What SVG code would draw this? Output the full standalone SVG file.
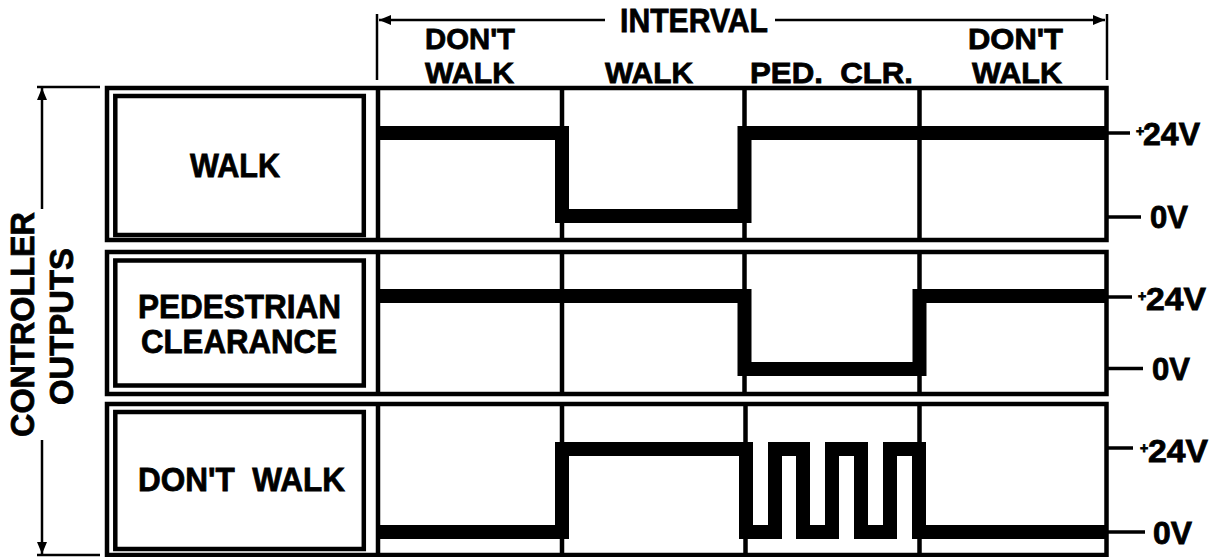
<svg xmlns="http://www.w3.org/2000/svg" width="1217" height="557" viewBox="0 0 1217 557">
<style>
  text { font-family: "Liberation Sans", Arial, sans-serif; font-weight: bold; font-size: 34px; fill: #000; stroke: #000; stroke-width: 0.8; }
  .outer { fill: none; stroke: #000; stroke-width: 4.5; }
  .inner { fill: none; stroke: #000; stroke-width: 4.5; }
  .col { stroke: #000; stroke-width: 4.5; }
  .wave { fill: none; stroke: #000; stroke-width: 14; stroke-linejoin: miter; stroke-linecap: butt; }
  .tick { stroke: #000; stroke-width: 3.5; }
  .dim { stroke: #000; stroke-width: 2.5; fill: none; }
  .volt { font-size: 32px; }
  .hdr { font-size: 30px; }
</style>
<defs>
  <marker id="ah" viewBox="0 0 12 10" refX="12" refY="5" markerWidth="12" markerHeight="10" markerUnits="userSpaceOnUse" orient="auto">
    <path d="M0,0 L12,5 L0,10 Z" fill="#000"/>
  </marker>
</defs>

<g id="header">
  <text x="620" y="32" textLength="148" lengthAdjust="spacingAndGlyphs">INTERVAL</text>
  <text class="hdr" x="425" y="49" textLength="90" lengthAdjust="spacingAndGlyphs">DON'T</text>
  <text class="hdr" x="425" y="83" textLength="89" lengthAdjust="spacingAndGlyphs">WALK</text>
  <text class="hdr" x="605" y="83" textLength="88" lengthAdjust="spacingAndGlyphs">WALK</text>
  <text class="hdr" x="750" y="83" textLength="163" lengthAdjust="spacingAndGlyphs" xml:space="preserve">PED.  CLR.</text>
  <text class="hdr" x="968" y="49" textLength="95" lengthAdjust="spacingAndGlyphs">DON'T</text>
  <text class="hdr" x="972" y="83" textLength="90" lengthAdjust="spacingAndGlyphs">WALK</text>
</g>

<g id="side-label">
  <text transform="translate(34,324.5) rotate(-90)" text-anchor="middle" textLength="225" lengthAdjust="spacingAndGlyphs">CONTROLLER</text>
  <text transform="translate(73,326.5) rotate(-90)" text-anchor="middle" textLength="157" lengthAdjust="spacingAndGlyphs">OUTPUTS</text>
</g>

<g id="row-walk">
  <rect class="outer" x="107" y="88" width="999.5" height="152"/>
  <rect class="inner" x="115.3" y="96" width="248.5" height="139"/>
  <line class="col" x1="378" y1="88" x2="378" y2="240"/>
  <line class="col" x1="562" y1="88" x2="562" y2="240"/>
  <line class="col" x1="744.5" y1="88" x2="744.5" y2="240"/>
  <line class="col" x1="919.5" y1="88" x2="919.5" y2="240"/>
  <text x="190" y="177" textLength="90" lengthAdjust="spacingAndGlyphs">WALK</text>
  <path class="wave" d="M378,133 H562 V216 H744.5 V133 H1106.5"/>
  <line class="tick" x1="1106.5" y1="133" x2="1130" y2="133"/>
  <line class="tick" x1="1106.5" y1="217" x2="1141" y2="217"/>
  <text class="volt" x="1136" y="145"><tspan font-size="14" dy="-9">+</tspan><tspan x="1143" dy="9" textLength="57" lengthAdjust="spacingAndGlyphs">24V</tspan></text>
  <text class="volt" x="1150" y="228" textLength="38" lengthAdjust="spacingAndGlyphs">0V</text>
</g>

<g id="row-pedestrian-clearance">
  <rect class="outer" x="107" y="252" width="999.5" height="142"/>
  <rect class="inner" x="115.3" y="260.5" width="248.5" height="125"/>
  <line class="col" x1="378" y1="252" x2="378" y2="394"/>
  <line class="col" x1="562" y1="252" x2="562" y2="394"/>
  <line class="col" x1="744.5" y1="252" x2="744.5" y2="394"/>
  <line class="col" x1="919.5" y1="252" x2="919.5" y2="394"/>
  <text x="138" y="318" textLength="203" lengthAdjust="spacingAndGlyphs">PEDESTRIAN</text>
  <text x="141" y="353" textLength="196" lengthAdjust="spacingAndGlyphs">CLEARANCE</text>
  <path class="wave" d="M378,296 H744.5 V369 H919.5 V296 H1106.5"/>
  <line class="tick" x1="1106.5" y1="297" x2="1132" y2="297"/>
  <line class="tick" x1="1106.5" y1="368.5" x2="1143" y2="368.5"/>
  <text class="volt" x="1138" y="310"><tspan font-size="14" dy="-9">+</tspan><tspan x="1146" dy="9" textLength="60" lengthAdjust="spacingAndGlyphs">24V</tspan></text>
  <text class="volt" x="1152" y="380" textLength="38" lengthAdjust="spacingAndGlyphs">0V</text>
</g>

<g id="row-dont-walk">
  <rect class="outer" x="107" y="404" width="999.5" height="151"/>
  <rect class="inner" x="115.3" y="412" width="248.5" height="137"/>
  <line class="col" x1="378" y1="404" x2="378" y2="555"/>
  <line class="col" x1="562" y1="404" x2="562" y2="555"/>
  <line class="col" x1="745.5" y1="404" x2="745.5" y2="555"/>
  <line class="col" x1="919.5" y1="404" x2="919.5" y2="555"/>
  <text x="138" y="491" textLength="207" lengthAdjust="spacingAndGlyphs" xml:space="preserve">DON'T  WALK</text>
  <path class="wave" d="M378,532 H562 V449 H746 V532 H775 V449 H803 V532 H832 V449 H861 V532 H890 V449 H919 V532 H1106.5"/>
  <line class="tick" x1="1106.5" y1="448" x2="1133" y2="448"/>
  <line class="tick" x1="1106.5" y1="532" x2="1145" y2="532"/>
  <text class="volt" x="1140" y="462"><tspan font-size="14" dy="-9">+</tspan><tspan x="1148" dy="9" textLength="60" lengthAdjust="spacingAndGlyphs">24V</tspan></text>
  <text class="volt" x="1153" y="544" textLength="39" lengthAdjust="spacingAndGlyphs">0V</text>
</g>

<g id="connectors">
  <line class="dim" x1="377" y1="14" x2="377" y2="80"/>
  <line class="dim" x1="1107" y1="14" x2="1107" y2="80"/>
  <line class="dim" x1="605" y1="20" x2="379" y2="20" marker-end="url(#ah)"/>
  <line class="dim" x1="775" y1="20" x2="1105" y2="20" marker-end="url(#ah)"/>
  <line class="dim" x1="37" y1="87" x2="100" y2="87"/>
  <line class="dim" x1="37" y1="555" x2="100" y2="555"/>
  <line class="dim" x1="42" y1="209" x2="42" y2="88" marker-end="url(#ah)"/>
  <line class="dim" x1="42" y1="440" x2="42" y2="554" marker-end="url(#ah)"/>
</g>
</svg>
